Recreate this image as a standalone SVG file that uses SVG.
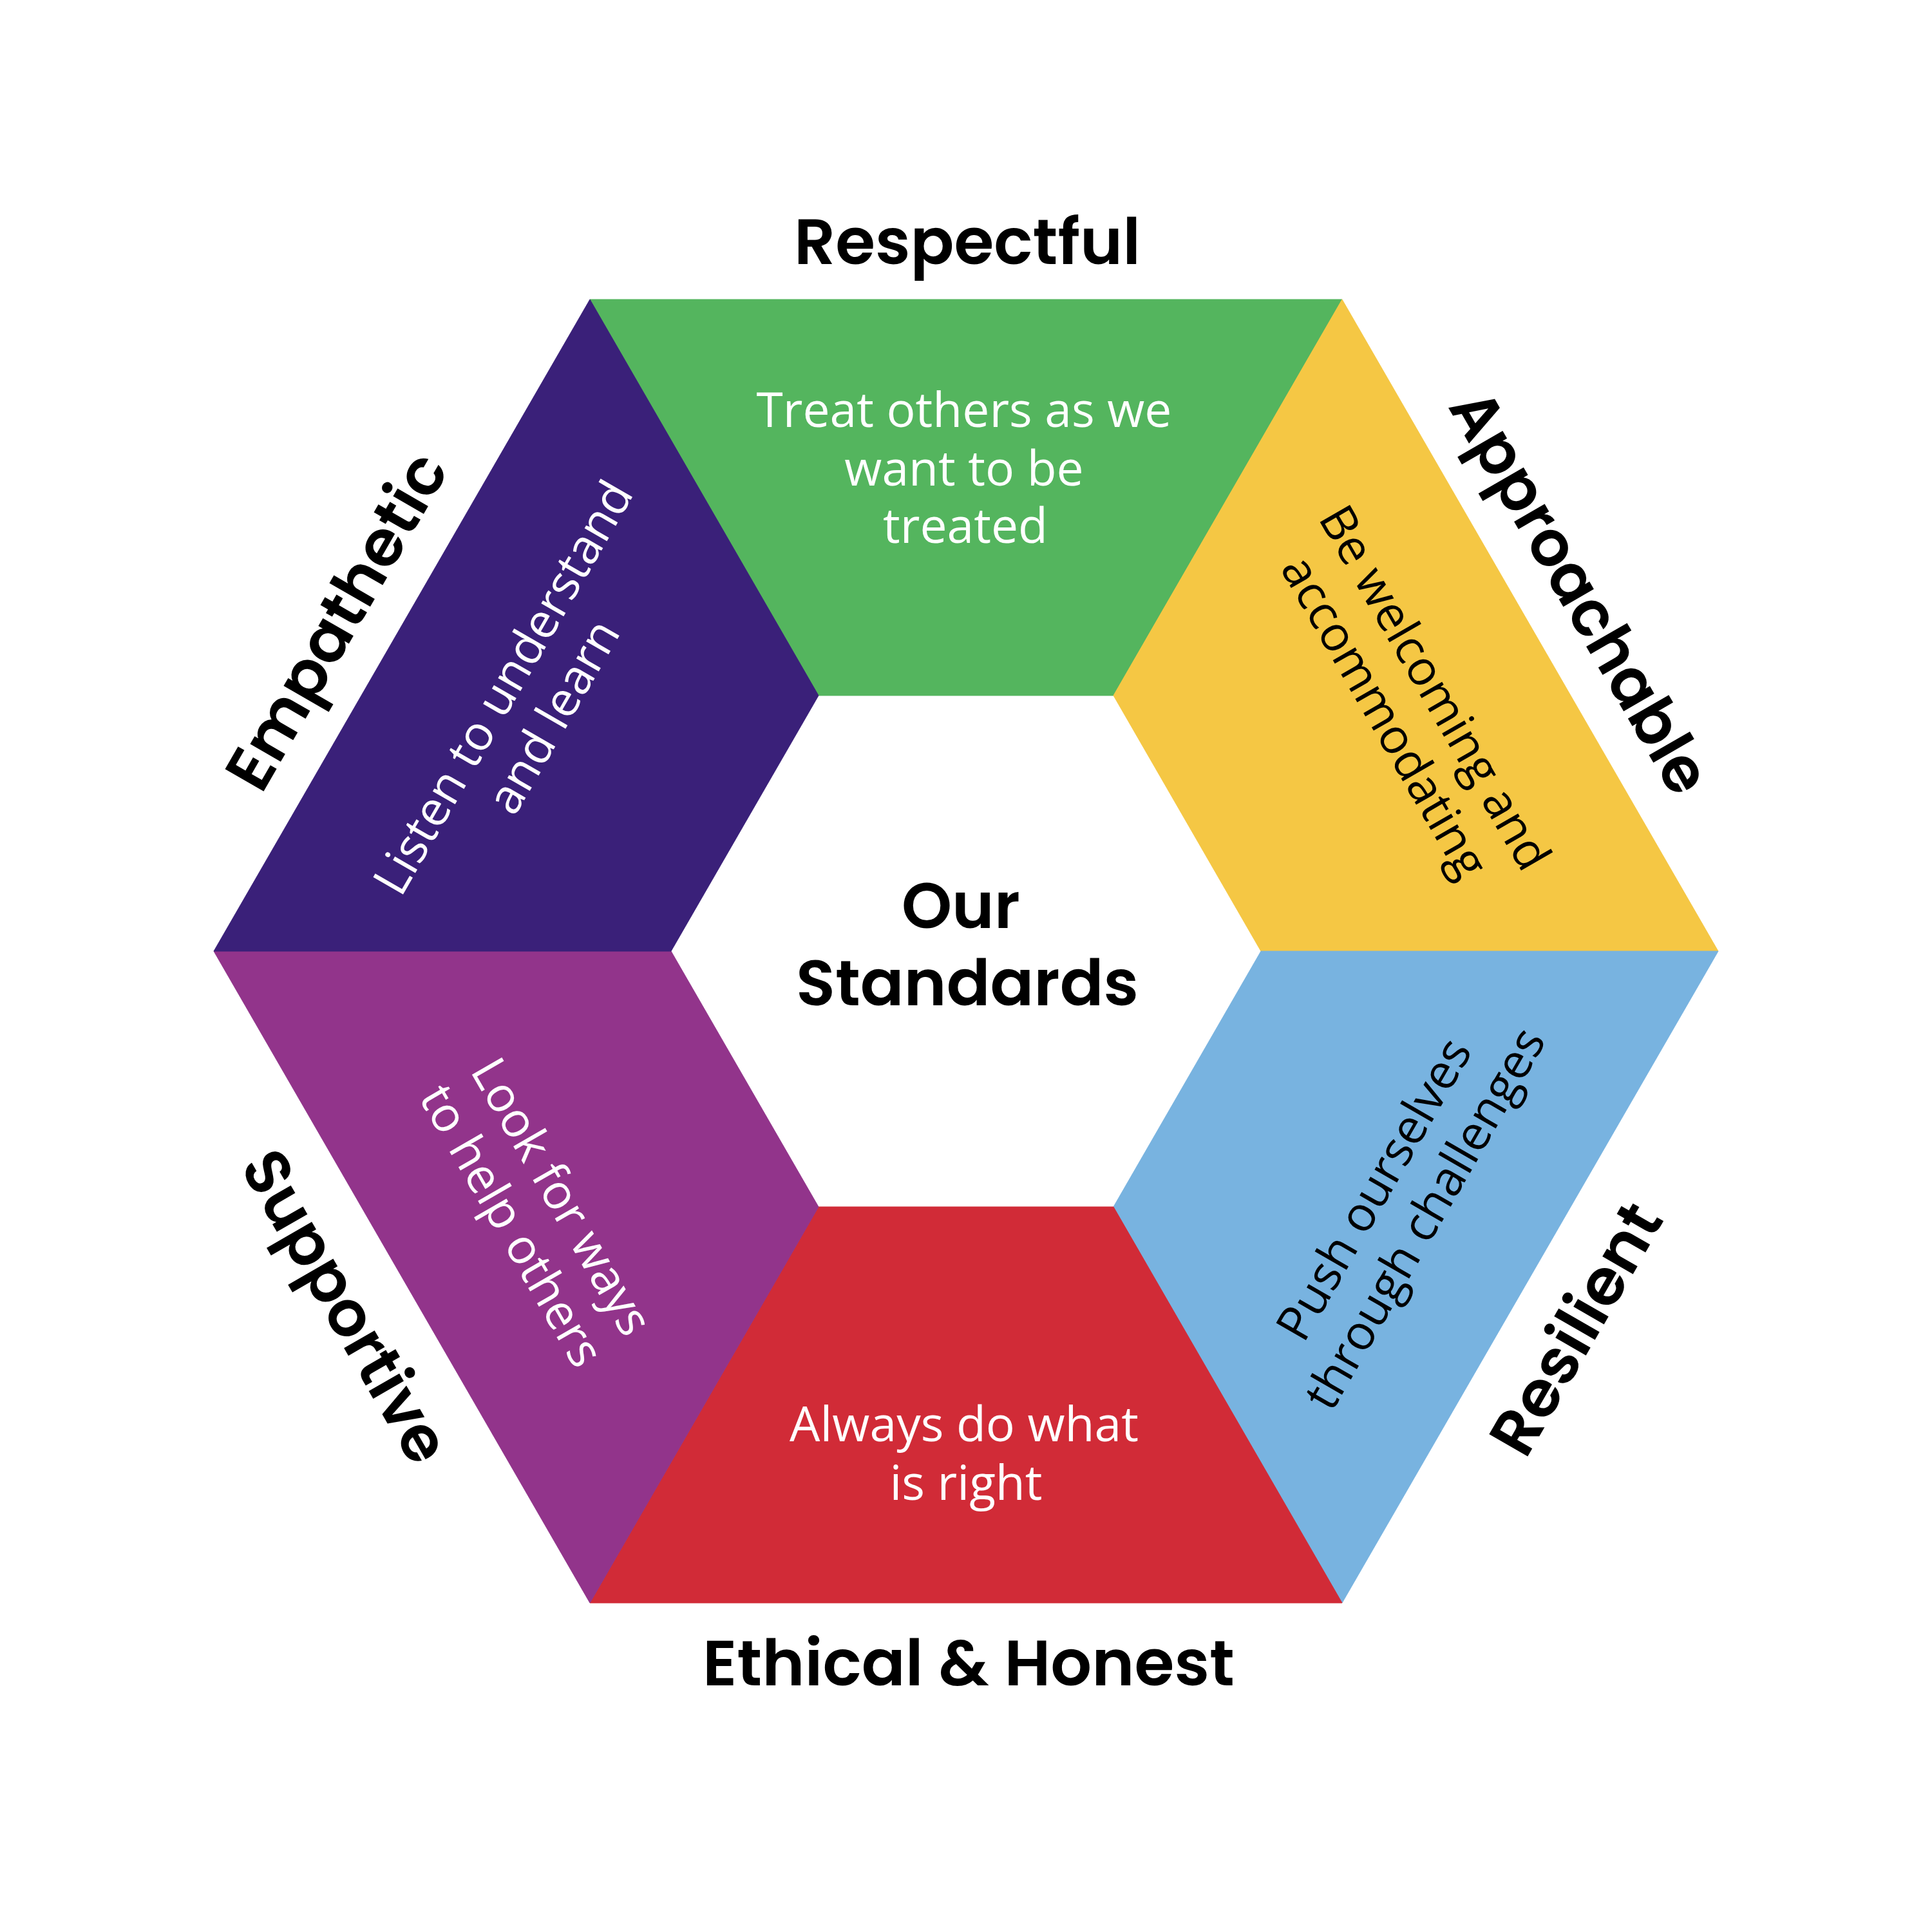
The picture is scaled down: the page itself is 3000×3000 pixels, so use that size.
<svg xmlns="http://www.w3.org/2000/svg" width="3000" height="3000" viewBox="0 0 3000 3000">
<style>
.lbl{font-family:"Poppins","Open Sans","Liberation Sans",sans-serif;font-weight:600;font-size:99px;fill:#000;text-anchor:middle}
.body{font-family:"Open Sans","Liberation Sans",sans-serif;font-size:75px;text-anchor:middle}
.w{fill:#fff}
.k{fill:#000}
</style>
<rect width="3000" height="3000" fill="#fff"/>
<g id="respectful">
<polygon points="916,465 2084,465 1729,1080 1271,1080" fill="#54B55E" stroke="#54B55E" stroke-width="1"/>
<text class="lbl" x="1502" y="410" textLength="538" lengthAdjust="spacingAndGlyphs">Respectful</text>
<text class="body w"><tspan x="1497" y="663">Treat others as we</tspan><tspan x="1497" y="754">want to be</tspan><tspan x="1499" y="843">treated</tspan></text>
</g>
<g id="approachable">
<polygon points="2084,465 2668,1477 1958,1477 1729,1080" fill="#F5C744" stroke="#F5C744" stroke-width="1"/>
<g transform="translate(2376,971) rotate(60)"><text class="lbl" x="-6" y="-59" textLength="705" lengthAdjust="spacingAndGlyphs">Approachable</text></g>
<g transform="translate(2109.75,1124.75) rotate(60)"><text class="body k"><tspan x="10" y="-105">Be welcoming and</tspan><tspan x="10" y="-15">accommodating</tspan></text></g>
</g>
<g id="resilient">
<polygon points="2668,1477 2084,2489 1729,1874 1958,1477" fill="#78B3E0" stroke="#78B3E0" stroke-width="1"/>
<g transform="translate(2376,1983) rotate(-60)"><text class="lbl" x="-34" y="136" textLength="432" lengthAdjust="spacingAndGlyphs">Resilient</text></g>
<g transform="translate(2109.75,1829.25) rotate(-60)"><text class="body k"><tspan x="-3" y="55">Push ourselves</tspan><tspan x="-3" y="146">through challenges</tspan></text></g>
</g>
<g id="ethical">
<polygon points="2084,2489 916,2489 1271,1874 1729,1874" fill="#D12B37" stroke="#D12B37" stroke-width="1"/>
<text class="lbl" x="1504" y="2617" textLength="826" lengthAdjust="spacingAndGlyphs">Ethical &amp; Honest</text>
<text class="body w"><tspan x="1497" y="2238">Always do what</tspan><tspan x="1500" y="2329">is right</tspan></text>
</g>
<g id="supportive">
<polygon points="916,2489 332,1477 1042,1477 1271,1874" fill="#92348B" stroke="#92348B" stroke-width="1"/>
<g transform="translate(624,1983) rotate(60)"><text class="lbl" x="-4" y="133" textLength="542" lengthAdjust="spacingAndGlyphs">Supportive</text></g>
<g transform="translate(890.25,1829.25) rotate(60)"><text class="body w"><tspan x="16" y="56">Look for ways</tspan><tspan x="16" y="146">to help others</tspan></text></g>
</g>
<g id="empathetic">
<polygon points="332,1477 916,465 1271,1080 1042,1477" fill="#3A2079" stroke="#3A2079" stroke-width="1"/>
<g transform="translate(624,971) rotate(-60)"><text class="lbl" x="-45" y="-57" textLength="585" lengthAdjust="spacingAndGlyphs">Empathetic</text></g>
<g transform="translate(890.25,1124.75) rotate(-60)"><text class="body w"><tspan x="-5" y="-97">Listen to understand</tspan><tspan x="-5" y="-7">and learn</tspan></text></g>
</g>
<g id="center">
<text class="lbl" x="1492" y="1441" textLength="184" lengthAdjust="spacingAndGlyphs">Our</text>
<text class="lbl" x="1502" y="1561" textLength="532" lengthAdjust="spacingAndGlyphs">Standards</text>
</g>
</svg>
